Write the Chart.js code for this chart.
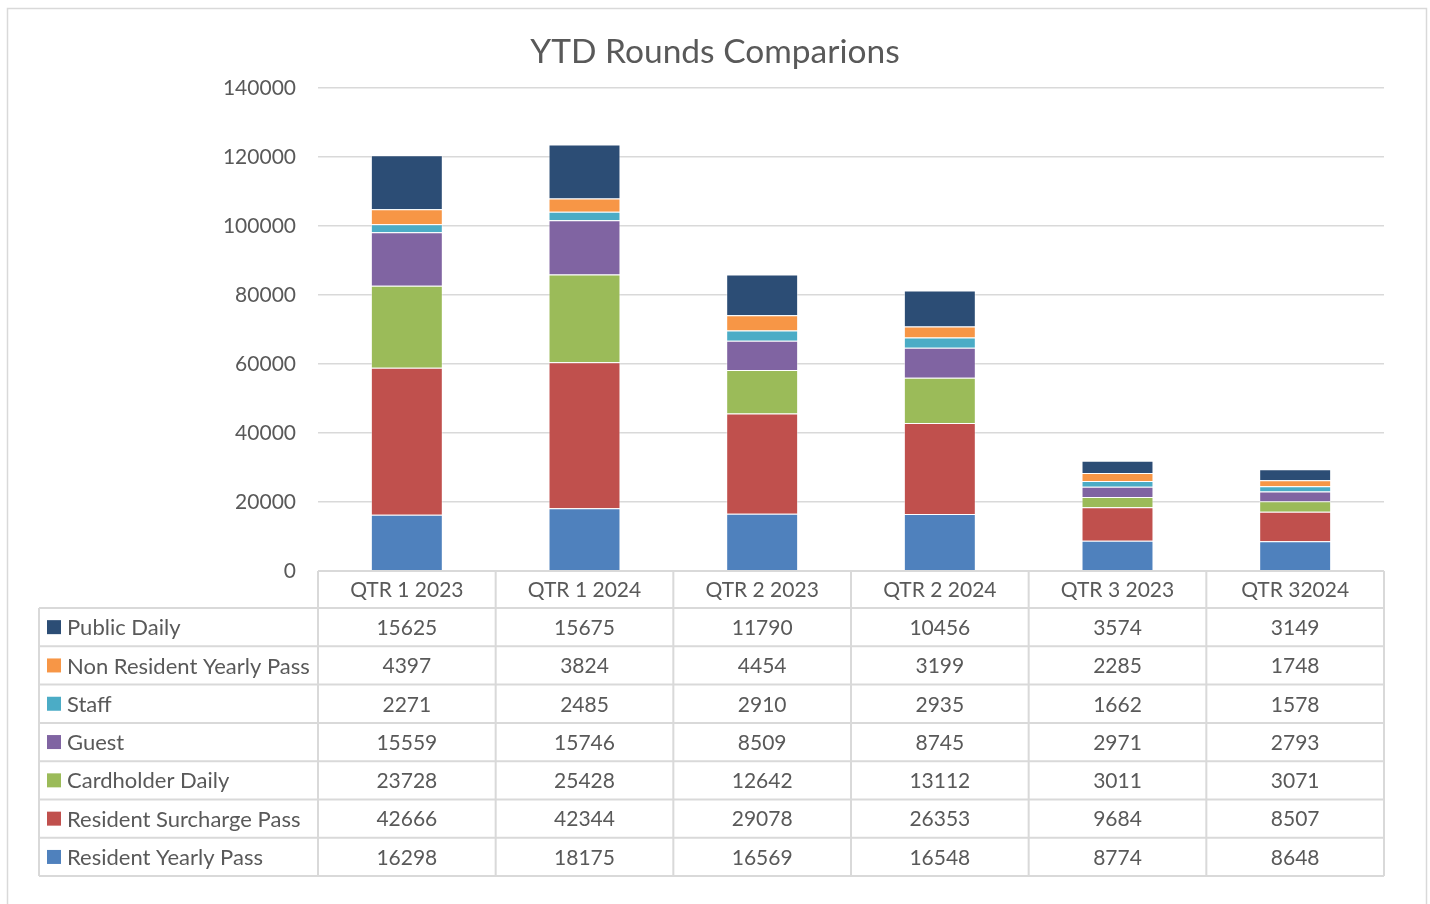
<!DOCTYPE html>
<html><head><meta charset="utf-8">
<script src="https://cdn.jsdelivr.net/npm/chart.js@4"></script>
<style>html,body{margin:0;padding:0;background:#fff;overflow:hidden}</style>
</head><body>
<canvas id="c" width="1430" height="904"></canvas>
<script>
const categories = ['QTR 1 2023','QTR 1 2024','QTR 2 2023','QTR 2 2024','QTR 3 2023','QTR 32024'];
const residentYearly = [16298,18175,16569,16548,8774,8648];
const residentSurcharge = [42666,42344,29078,26353,9684,8507];
const cardholderDaily = [23728,25428,12642,13112,3011,3071];
const guest = [15559,15746,8509,8745,2971,2793];
const staff = [2271,2485,2910,2935,1662,1578];
const nonResidentYearly = [4397,3824,4454,3199,2285,1748];
const publicDaily = [15625,15675,11790,10456,3574,3149];
const yMax = 140000, yStep = 20000;

const FONT = 'Lato, "Open Sans", sans-serif';
const TXT = '#595959', LINE = '#D9D9D9';

const series = [
  {label:'Resident Yearly Pass', data:residentYearly, color:'#4F81BD'},
  {label:'Resident Surcharge Pass', data:residentSurcharge, color:'#C0504D'},
  {label:'Cardholder Daily', data:cardholderDaily, color:'#9BBB59'},
  {label:'Guest', data:guest, color:'#8064A2'},
  {label:'Staff', data:staff, color:'#4BACC6'},
  {label:'Non Resident Yearly Pass', data:nonResidentYearly, color:'#F79646'},
  {label:'Public Daily', data:publicDaily, color:'#2C4D75'}
];

const frame = {
  id:'frame',
  beforeDraw(chart){
    const c = chart.ctx;
    c.save();
    c.fillStyle='#fff'; c.fillRect(0,0,chart.width,chart.height);
    c.strokeStyle=LINE; c.lineWidth=1.5;
    c.beginPath();
    c.moveTo(7.5, 910); c.lineTo(7.5, 8.5); c.lineTo(1426.5, 8.5); c.lineTo(1426.5, 910);
    c.stroke();
    c.restore();
  }
};

const dataTable = {
  id:'dataTable',
  afterDraw(chart){
    const c = chart.ctx, x = chart.scales.x, a = chart.chartArea;
    const n = categories.length;
    const centers = categories.map((_,i)=>x.getPixelForValue(i));
    const bounds = [a.left];
    for(let i=0;i<n-1;i++) bounds.push((centers[i]+centers[i+1])/2);
    bounds.push(a.right);
    const top = a.bottom, headH = 37, rowH = 38.3;
    const rowsTop = top + headH;
    const rows = series.slice().reverse();
    const bottom = rowsTop + rowH*rows.length;
    const labelLeft = 39;
    c.save();
    c.strokeStyle = LINE; c.lineWidth = 2;
    c.beginPath();
    c.moveTo(a.left, top); c.lineTo(a.right, top);
    for(let r=0;r<=rows.length;r++){
      const y = rowsTop + r*rowH;
      c.moveTo(labelLeft, y); c.lineTo(a.right, y);
    }
    bounds.forEach(b=>{ c.moveTo(b, top); c.lineTo(b, bottom); });
    c.moveTo(labelLeft, rowsTop); c.lineTo(labelLeft, bottom);
    c.stroke();
    c.fillStyle = TXT;
    c.font = '21px ' + FONT;
    c.textAlign='center'; c.textBaseline='middle';
    categories.forEach((cat,i)=>c.fillText(cat, centers[i], top + headH/2 + 1));
    rows.forEach((s,r)=>{
      const cy = rowsTop + r*rowH + rowH/2;
      c.font = '21px ' + FONT;
      s.data.forEach((v,i)=>{ c.fillStyle=TXT; c.textAlign='center'; c.fillText(String(v), centers[i], cy+1); });
      c.fillStyle = s.color;
      c.fillRect(47, cy-7, 14, 14);
      c.font = '22px ' + FONT;
      c.fillStyle = TXT; c.textAlign='left';
      c.fillText(s.label, 67, cy+1);
    });
    c.restore();
  }
};

new Chart(document.getElementById('c'), {
  type:'bar',
  data:{
    labels:categories,
    datasets: series.map(s=>({
      label:s.label, data:s.data, backgroundColor:s.color,
      borderColor:'rgba(255,255,255,0.45)', borderWidth:1,
      categoryPercentage:1, barPercentage:0.405
    }))
  },
  options:{
    responsive:false, animation:false, devicePixelRatio:1,
    layout:{padding:{left:0, right:0, top:0, bottom:333}},
    plugins:{
      legend:{display:false},
      tooltip:{enabled:false},
      title:{display:true, text:'YTD Rounds Comparions', color:TXT,
        font:{family:FONT, size:33.5, weight:'normal'}, padding:{top:32, bottom:16}}
    },
    scales:{
      x:{stacked:true, display:false},
      y:{stacked:true, min:0, max:yMax,
        afterFit(s){ s.width = 318; },
        border:{display:false},
        grid:{color:LINE, lineWidth:1.5, drawTicks:false},
        ticks:{stepSize:yStep, color:TXT, padding:22, font:{family:FONT, size:21},
          callback:(v)=>String(v)}
      },
      y2:{position:'right', display:true, min:0, max:yMax,
        afterFit(s){ s.width = 46; },
        border:{display:false},
        grid:{drawOnChartArea:false, drawTicks:false},
        ticks:{display:false}
      }
    }
  },
  plugins:[frame, dataTable]
});
</script>
</body></html>
